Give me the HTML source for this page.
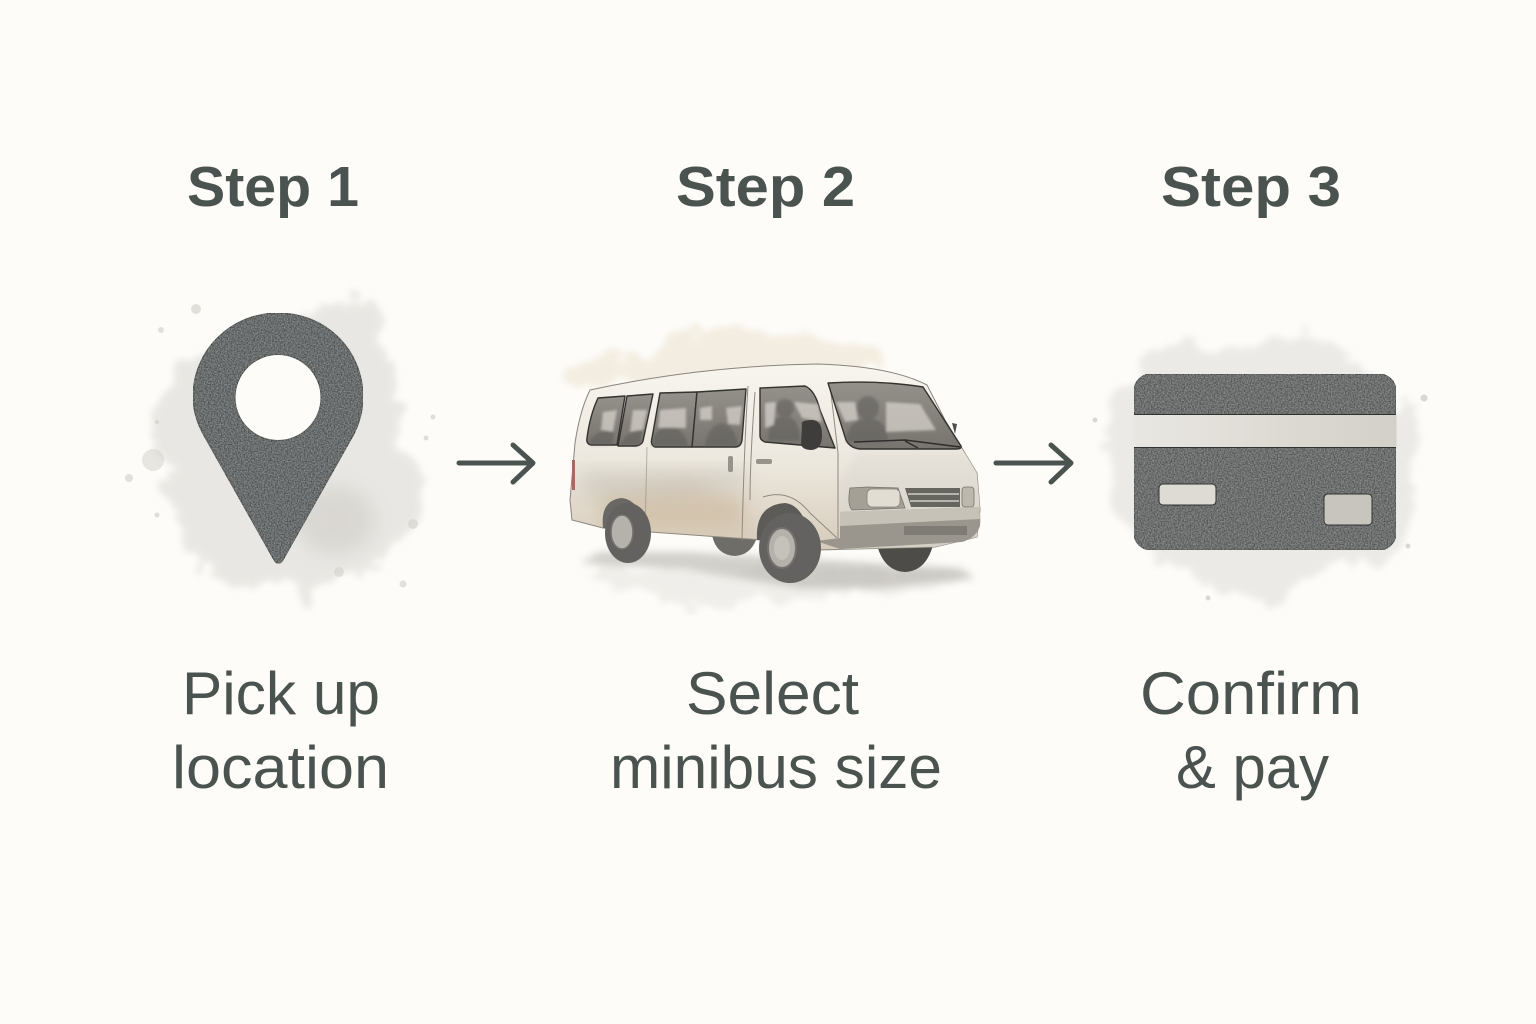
<!DOCTYPE html>
<html lang="en">
<head>
<meta charset="utf-8">
<title>Three steps</title>
<style>
html,body{margin:0;padding:0;background:#fdfcf9;width:1536px;height:1024px;overflow:hidden}
svg{display:block}
text{font-family:"Liberation Sans",sans-serif;fill:#4b5351}
.h{font-weight:700;font-size:57px}
.b{font-size:60px}
</style>
</head>
<body>
<svg width="1536" height="1024" viewBox="0 0 1536 1024" xmlns="http://www.w3.org/2000/svg">
<defs>
<filter id="blot" x="-30%" y="-30%" width="160%" height="160%">
  <feTurbulence type="fractalNoise" baseFrequency="0.035" numOctaves="4" seed="7" result="n"/>
  <feDisplacementMap in="SourceGraphic" in2="n" scale="36" xChannelSelector="R" yChannelSelector="G"/>
  <feGaussianBlur stdDeviation="3.5"/>
</filter>
<filter id="soft" x="-30%" y="-30%" width="160%" height="160%"><feGaussianBlur stdDeviation="9"/></filter>
<filter id="soft2" x="-30%" y="-30%" width="160%" height="160%"><feGaussianBlur stdDeviation="4"/></filter>
<filter id="soft1" x="-30%" y="-30%" width="160%" height="160%"><feGaussianBlur stdDeviation="1.2"/></filter>
<filter id="tex" x="0" y="0" width="100%" height="100%">
  <feTurbulence type="fractalNoise" baseFrequency="0.7" numOctaves="2" seed="3" result="n"/>
  <feColorMatrix in="n" type="matrix" values="0 0 0 0 1  0 0 0 0 1  0 0 0 0 1  0.4 0 0 0 -0.12"/>
  <feComposite in2="SourceGraphic" operator="in" result="g"/>
  <feMerge><feMergeNode in="SourceGraphic"/><feMergeNode in="g"/></feMerge>
</filter>
<linearGradient id="body" x1="0" y1="0" x2="0" y2="1">
  <stop offset="0" stop-color="#f8f5ef"/><stop offset=".55" stop-color="#ece7dd"/><stop offset="1" stop-color="#d6cbb9"/>
</linearGradient>
<linearGradient id="front" x1="0" y1="0" x2="0" y2="1">
  <stop offset="0" stop-color="#e6e2da"/><stop offset="1" stop-color="#d3cfc6"/>
</linearGradient>
<linearGradient id="glass" x1="0" y1="0" x2="0" y2="1">
  <stop offset="0" stop-color="#94918b"/><stop offset="1" stop-color="#77746e"/>
</linearGradient>
<linearGradient id="stripe" x1="0" y1="0" x2="1" y2="0">
  <stop offset="0" stop-color="#e9e7e1"/><stop offset="1" stop-color="#d3d0c9"/>
</linearGradient>
<clipPath id="vb"><path d="M590 390 Q700 366 817 364 Q890 366 927 385 L945 420 L977 473 L980 510 L977 537 L935 547 L818 550 L763 540 L650 532 L603 528 L572 520 L570 500 L575 443 Q580 410 590 390Z"/></clipPath>
</defs>

<rect width="1536" height="1024" fill="#fdfcf9"/>

<!-- Step 1 wash -->
<g fill="#d6d4ce">
  <path filter="url(#blot)" opacity=".5" d="M165 380 L220 345 L350 300 L375 300 L395 380 L400 450 L425 480 L415 525 L385 555 L372 570 L340 575 L310 600 L285 585 L240 585 L195 572 L185 540 L165 490 L155 440Z"/>
  <ellipse cx="335" cy="520" rx="40" ry="34" fill="#c4c1bb" opacity=".4" filter="url(#soft)"/>
  <circle cx="153" cy="460" r="11" opacity=".55"/>
  <circle cx="129" cy="478" r="4" opacity=".7"/><circle cx="196" cy="309" r="5" opacity=".7"/><circle cx="161" cy="330" r="3" opacity=".7"/>
  <circle cx="413" cy="524" r="5" opacity=".7"/><circle cx="339" cy="572" r="5" opacity=".7"/><circle cx="403" cy="584" r="3.500" opacity=".7"/>
  <circle cx="157" cy="515" r="2.500" opacity=".8"/><circle cx="157" cy="422" r="2.200" opacity=".8"/><circle cx="433" cy="417" r="2.400" opacity=".8"/><circle cx="426" cy="438" r="2.400" opacity=".8"/>
</g>

<!-- Step 2 wash -->
<path filter="url(#blot)" fill="#eee3d0" opacity=".6" d="M560 372 L640 352 L720 325 L800 335 L870 350 L880 372 L600 385 L565 385Z"/>
<path filter="url(#blot)" fill="#dcd9d2" opacity=".38" d="M590 570 L960 570 L975 582 L860 595 L760 600 L690 605 L610 585Z"/>

<!-- Step 3 wash -->
<g fill="#dad8d3">
  <path filter="url(#blot)" opacity=".48" d="M1105 400 L1170 345 L1240 350 L1300 330 L1350 350 L1370 380 L1420 420 L1420 490 L1400 560 L1320 570 L1280 605 L1210 590 L1160 560 L1115 510Z"/>
  <circle cx="1424" cy="398" r="3.500"/><circle cx="1095" cy="420" r="2.500"/><circle cx="1208" cy="598" r="2.500"/><circle cx="1408" cy="546" r="2.500"/>
</g>

<!-- Headings -->
<text class="h" x="187" y="206" textLength="172" lengthAdjust="spacingAndGlyphs">Step 1</text>
<text class="h" x="676" y="206" textLength="179" lengthAdjust="spacingAndGlyphs">Step 2</text>
<text class="h" x="1161" y="206" textLength="180" lengthAdjust="spacingAndGlyphs">Step 3</text>

<!-- Pin -->
<circle cx="278" cy="397.500" r="44" fill="#fdfcf9"/>
<path filter="url(#tex)" fill-rule="evenodd" fill="#4e5352" stroke="#2f3433" stroke-width="1"
 d="M278 313 C326 313 363 350 363 397 C363 414 358 428 350 441 L283 560 Q278.500 567 274 560 L207 441 C199 428 193 414 193 397 C193 350 231 313 278 313Z
    M278 354.500 A43 43 0 1 0 278.010 440.500 A43 43 0 1 0 278 354.500Z"/>

<!-- Arrows -->
<g fill="none" stroke="#4b5351" stroke-width="5" stroke-linecap="round" stroke-linejoin="round">
  <path d="M459 463 H532 M513 445 L533 463 L513 482"/>
  <path d="M996 463 H1070 M1051 445 L1071 463 L1051 482"/>
</g>

<!-- Van -->
<g>
  <!-- ground shadow -->
  <path filter="url(#soft2)" fill="#a8a59e" opacity=".5" d="M600 552 L690 552 L960 568 L975 578 L880 588 L800 588 L690 570 L580 563Z"/>
  <!-- far wheels -->
  <path d="M712 535 Q716 555 735 556 Q750 555 756 540Z" fill="#6f6d68"/>
  <path d="M877 545 Q884 571 905 572 Q926 571 933 545Z" fill="#4d4c49"/>
  <!-- body side -->
  <path d="M590 390 Q700 366 817 364 Q890 366 927 385 L945 420 L977 473 L980 510 L977 537 L935 547 L818 550 L763 540 L650 532 L603 528 L572 520 L570 500 L575 443 Q580 410 590 390Z" fill="url(#body)" stroke="#8a857b" stroke-width="1"/>
  <g clip-path="url(#vb)">
    <!-- dirt -->
    <path filter="url(#soft)" fill="#c9b497" opacity=".55" d="M600 490 L650 485 L690 480 L745 500 L745 530 L650 530 L600 520Z"/>
    <path filter="url(#soft)" fill="#c9c5bc" opacity=".55" d="M580 470 L745 470 L745 490 L580 500Z"/>
    <!-- front panel shade -->
    <path filter="url(#soft2)" d="M858 452 L970 452 L985 490 L985 550 L840 550 L840 480Z" fill="url(#front)"/>
  </g>
  <!-- door lines -->
  <g fill="none" stroke="#8f8a80" stroke-width="1">
    <path d="M748 386 Q744 450 742 540"/>
    <path d="M755 392 Q750 460 750 500"/>
    <path d="M830 385 L838 453 L838 538"/>
    <path d="M647 447 L645 533" opacity=".6"/>
    <path d="M763 497 Q790 488 810 513 L837 538"/>
  </g>
  <!-- red tail light -->
  <rect x="572" y="460" width="3" height="30" fill="#a86a60"/>
  <!-- windows -->
  <g fill="url(#glass)" stroke="#33322f" stroke-width="1.400" stroke-linejoin="round">
    <path d="M598 398 L625 396 L617 445 L591 445 Q586 444 587 438 Q590 415 598 398Z"/>
    <path d="M627 396 L653 394 L643 441 Q642 445 636 446 L618 446Z"/>
    <path d="M660 393 L697 392 L692 447 L655 447 Q650 445 652 438 Z"/>
    <path d="M697 392 L746 389 L742 440 Q741 447 735 447 L692 447Z"/>
    <path d="M760 388 L805 386 Q815 390 820 410 L835 448 L765 442 Q760 440 760 436 Z"/>
    <path d="M828 383 Q880 380 923 387 L961 446 Q962 449 956 449 L860 449 Q850 448 846 440 Z"/>
  </g>
  <!-- silhouettes (behind highlights, soft) -->
  <g fill="#5f5d5a" opacity=".55" filter="url(#soft1)">
    <ellipse cx="785" cy="408" rx="9" ry="9"/><path d="M768 441 Q768 418 785 415 Q800 418 800 441Z"/>
    <ellipse cx="868" cy="408" rx="11" ry="12"/><path d="M846 442 Q848 420 868 418 Q888 420 888 442Z"/>
    <path d="M652 440 Q660 424 672 426 Q685 430 688 446L652 446Z"/>
    <path d="M590 440 Q600 428 614 432 L612 445 L590 445Z"/>
    <path d="M622 442 Q630 428 642 430 L640 445 L620 445Z"/>
    <path d="M705 446 Q708 425 722 423 Q735 425 738 446Z"/>
  </g>
  <!-- window highlights -->
  <g fill="#d6d2ca" opacity=".75" filter="url(#soft1)">
    <path d="M603 412 L617 410 L613 432 L601 430Z"/>
    <path d="M633 410 L647 410 L643 430 L630 432Z"/>
    <path d="M660 410 L686 408 L686 428 L658 428Z"/>
    <path d="M700 408 L712 406 L712 420 L700 420Z"/>
    <path d="M726 408 L742 406 L740 425 L728 424Z"/>
    <path d="M765 403 L776 402 L774 425 L765 428Z"/>
    <path d="M794 402 L818 404 L822 422 L802 418Z"/>
    <path d="M836 402 L855 402 L858 420 L845 422Z"/>
    <path d="M886 402 L920 404 L936 430 L886 432Z"/>
  </g>
  <!-- wipers -->
  <path d="M854 442 L905 440 L960 447 M905 441 L918 448" fill="none" stroke="#2e2d2b" stroke-width="1.400"/>
  <!-- mirror -->
  <path d="M802 425 Q800 420 812 420 Q822 420 822 435 Q822 449 812 450 Q802 450 801 444Z" fill="#3e3d3b"/>
  <path d="M952 423 L957 424 L955 434Z" fill="#4e4d4a"/>
  <!-- handles -->
  <rect x="728" y="456" width="5" height="16" rx="2" fill="#98938a"/>
  <rect x="756" y="459" width="16" height="5" rx="2" fill="#98938a"/>
  <!-- headlights + grille -->
  <path d="M850 488 L868 487 L898 488 L905 508 L852 510 Q847 505 850 488Z" fill="#a5a096" stroke="#77736b" stroke-width=".8"/>
  <rect x="867" y="489" width="33" height="18" rx="5" fill="#e2ddd3" stroke="#85817a" stroke-width=".8"/>
  <path d="M905 488 H960 V507 H911Z" fill="#66655f"/>
  <g stroke="#d2cec5" stroke-width="1.600"><path d="M908 494 H959 M910 501 H959"/></g>
  <rect x="962" y="487" width="12" height="20" rx="3" fill="#bdb8ae" stroke="#77736b" stroke-width=".8"/>
  <!-- bumper -->
  <path d="M840 512 L979 507 Q981 515 980 526 Q976 538 962 542 L840 549 L816 541 L840 538Z" fill="#9a968e"/>
  <path d="M840 512 L979 507 L980 519 L840 526Z" fill="#c6c2b8"/>
  <rect x="904" y="526" width="63" height="9" fill="#7f7c75"/>
  <!-- rear wheel -->
  <path d="M603 528 Q600 500 622 498 Q640 500 645 530Z" fill="#6a6864"/>
  <ellipse cx="628" cy="533" rx="23" ry="30" fill="#636260"/>
  <ellipse cx="622" cy="532" rx="11" ry="17" fill="#b5b2ab" stroke="#74726e" stroke-width="1.500"/>
  <!-- front wheel -->
  <path d="M757 540 Q755 505 785 503 Q805 505 812 545Z" fill="#5c5b58"/>
  <ellipse cx="790" cy="548" rx="31" ry="35" fill="#636260"/>
  <ellipse cx="782" cy="548" rx="14" ry="20" fill="#b5b2ab" stroke="#74726e" stroke-width="2"/>
  <ellipse cx="782" cy="548" rx="8" ry="12" fill="#c5c2bb"/>
</g>

<!-- Card -->
<g>
  <rect filter="url(#tex)" x="1134" y="374" width="262" height="176" rx="17" fill="#525655" stroke="#2f3332" stroke-width="1"/>
  <rect x="1133.500" y="415" width="263" height="32" fill="url(#stripe)"/>
  <path d="M1134 414.500 H1396 M1134 447.500 H1396" stroke="#2f3332" stroke-width="1"/>
  <rect x="1159" y="484" width="57" height="21" rx="4" fill="#dedbd4" stroke="#2f3332" stroke-width="1"/>
  <rect x="1324" y="494" width="48" height="31" rx="4" fill="#c8c5be" stroke="#2f3332" stroke-width="1"/>
</g>

<!-- Labels -->
<text class="b" x="182" y="714" textLength="198" lengthAdjust="spacingAndGlyphs">Pick up</text>
<text class="b" x="172" y="788" textLength="217" lengthAdjust="spacingAndGlyphs">location</text>
<text class="b" x="686" y="714" textLength="173" lengthAdjust="spacingAndGlyphs">Select</text>
<text class="b" x="610" y="788" textLength="332" lengthAdjust="spacingAndGlyphs">minibus size</text>
<text class="b" x="1140" y="714" textLength="222" lengthAdjust="spacingAndGlyphs">Confirm</text>
<text class="b" x="1176" y="788" textLength="153" lengthAdjust="spacingAndGlyphs">&amp; pay</text>
</svg>
</body>
</html>
